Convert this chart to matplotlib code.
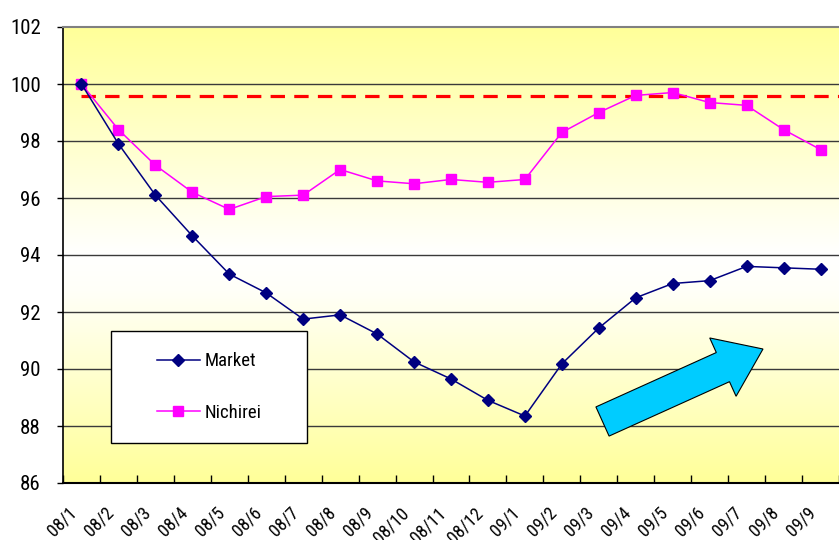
import numpy as np
import matplotlib
matplotlib.use("Agg")
import matplotlib.pyplot as plt
from matplotlib.colors import LinearSegmentedColormap
from matplotlib.patches import Rectangle, FancyArrow
from matplotlib.transforms import IdentityTransform, ScaledTranslation

# data
months = ["08/1", "08/2", "08/3", "08/4", "08/5", "08/6", "08/7", "08/8", "08/9",
          "08/10", "08/11", "08/12", "09/1", "09/2", "09/3", "09/4", "09/5",
          "09/6", "09/7", "09/8", "09/9"]
market = [100.0, 97.9, 96.1, 94.67, 93.33, 92.67, 91.75, 91.9, 91.23, 90.25,
          89.65, 88.9, 88.35, 90.18, 91.44, 92.5, 93.0, 93.1, 93.6, 93.55, 93.5]
nichirei = [100.0, 98.4, 97.15, 96.2, 95.6, 96.05, 96.1, 97.0, 96.6, 96.5,
            96.65, 96.55, 96.65, 98.3, 99.0, 99.6, 99.7, 99.35, 99.25, 98.4, 97.7]
target = 99.58
yticks = [86, 88, 90, 92, 94, 96, 98, 100, 102]

plt.rcParams['font.family'] = ['Roboto Condensed', 'DejaVu Sans']

fig = plt.figure(figsize=(8.39, 5.4), dpi=100)
ax = fig.add_axes([63 / 839, 57 / 540, 776 / 839, 456 / 540])

x = np.arange(len(months))
ax.set_xlim(-0.5, len(months) - 0.5)
ax.set_ylim(86, 102)

# background gradient yellow - white - yellow
cmap = LinearSegmentedColormap.from_list(
    "bg", [(0.0, "#FFFF99"), (0.42, "#FFFFF8"), (0.5, "#FFFFFF"), (1.0, "#FFFF99")])
grad = np.linspace(0, 1, 256).reshape(-1, 1)
ax.imshow(grad, cmap=cmap, aspect="auto", origin="lower",
          extent=[0, 1, 0, 1], transform=ax.transAxes, zorder=0)

# grid
for v in yticks[1:-1]:
    ax.axhline(v, color="#3a3a3a", lw=1.0, zorder=1)

ax.hlines(target, 0, len(months) - 0.5, colors="#FF0000", lw=2.3,
          linestyles=(0, (4.5, 2.9)), zorder=2)

ax.plot(x, market, color="#000080", lw=1.1, marker="D", ms=6.5,
        label="Market", zorder=4)
ax.plot(x, nichirei, color="#FF00FF", lw=1.1, marker="s", ms=6.5,
        mec="#FF00FF", label="Nichirei", zorder=3)

# ticks
ax.set_yticks(yticks)
ax.set_yticklabels([str(v) for v in yticks], fontsize=15)
ax.tick_params(axis="y", length=4, width=1, pad=12)
ax.set_xticks(x)
ax.set_xticklabels(months, rotation=45, fontsize=13, ha="right", va="top",
                   rotation_mode="anchor")
ax.set_xticks(np.arange(len(months) + 1) - 0.5, minor=True)
ax.tick_params(axis="x", which="major", length=0, pad=15)
ax.tick_params(axis="x", which="minor", direction="in", length=6, width=1)
# nudge the rotated labels left (after tick_params, which resets transforms)
shift = ScaledTranslation(-14 / 100, 0, fig.dpi_scale_trans)
for lab in ax.get_xticklabels():
    lab.set_transform(lab.get_transform() + shift)

ax.spines["right"].set_visible(False)
ax.spines["top"].set_color("#808080")
ax.spines["top"].set_linewidth(1.5)
ax.spines["left"].set_linewidth(1.2)
ax.spines["bottom"].set_linewidth(1.5)

# legend box
box = Rectangle((48 / 776, 40 / 456), 196 / 776, 112 / 456, transform=ax.transAxes,
                facecolor="white", edgecolor="black", lw=1.0, zorder=5)
ax.add_patch(box)
leg = ax.legend(loc="center", bbox_to_anchor=(146 / 776, 96 / 456),
                frameon=False, fontsize=13.5, handlelength=2.3, handletextpad=0.25,
                labelspacing=1.8)
leg.set_zorder(6)

# arrow (pixel coordinates)
arrow = FancyArrow(602.5, 540 - 421.5, 160.5, 72.5, width=32, head_width=64,
                   head_length=44, length_includes_head=True,
                   facecolor="#00CCFF", edgecolor="black", lw=0.8,
                   transform=IdentityTransform(), zorder=7)
fig.add_artist(arrow)

fig.savefig("out.png", dpi=100)
